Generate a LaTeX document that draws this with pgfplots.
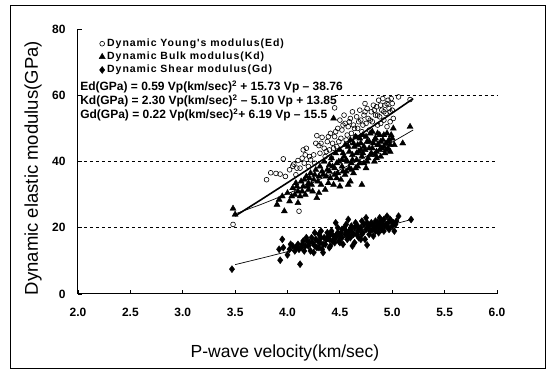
\documentclass[border=0pt]{standalone}
\usepackage{fontspec}
\setmainfont{Liberation Sans}
\newfontfamily\legfont[LetterSpace=9]{Liberation Sans}
\usepackage{pgfplots}
\pgfplotsset{compat=1.18}

\pgfplotstableread{
x y
3.48 21.0
3.80 34.5
3.84 36.6
3.89 36.4
3.93 36.2
3.96 40.8
3.98 35.5
4.02 37.5
4.05 38.6
4.06 39.2
4.08 36.0
4.10 40.3
4.11 25.0
4.12 38.0
4.14 41.0
4.15 43.5
4.17 42.0
4.18 44.0
4.20 38.5
4.22 40.5
4.25 42.0
4.27 45.5
4.28 47.8
4.30 44.8
4.31 42.5
4.33 47.3
4.35 44.0
4.36 41.5
4.38 46.0
4.40 43.5
4.41 48.5
4.43 45.5
4.45 47.5
4.45 56.2
4.47 44.5
4.48 50.0
4.50 52.5
4.51 47.0
4.52 49.5
4.54 54.0
4.55 51.5
4.56 46.5
4.58 50.5
4.60 53.0
4.61 48.5
4.62 55.0
4.63 51.0
4.65 47.5
4.66 53.5
4.67 50.0
4.69 55.5
4.70 52.5
4.71 49.0
4.73 54.0
4.74 57.5
4.75 51.5
4.76 56.0
4.77 53.0
4.78 49.5
4.80 55.0
4.81 52.0
4.82 57.0
4.84 54.0
4.85 56.5
4.86 51.0
4.87 58.5
4.88 53.5
4.90 55.5
4.91 59.0
4.92 52.5
4.93 57.0
4.94 54.5
4.96 58.5
4.97 56.0
4.98 52.0
4.99 59.0
5.00 55.5
5.01 53.0
5.06 59.5
5.17 58.7
4.95 50.5
4.58 45.5
4.42 41.0
4.26 39.5
4.32 45.5
4.37 43.0
4.39 47.5
4.44 44.0
4.46 49.0
4.49 46.0
4.53 51.0
4.57 48.0
4.59 52.0
4.64 50.0
4.68 52.0
4.72 51.0
4.74 55.0
4.79 52.5
4.83 55.5
4.86 54.0
4.89 57.0
4.92 55.0
4.95 57.5
4.98 55.0
5.00 57.5
4.89 51.5
4.21 41.5
4.16 39.5
4.09 38.0
}\EdData

\pgfplotstableread{
x y
3.48 25.8
3.50 24.0
3.90 27.0
3.92 28.5
3.95 29.5
3.97 25.0
4.00 30.5
4.02 28.0
4.05 32.0
4.07 30.0
4.08 33.5
4.10 31.0
4.12 29.5
4.13 34.0
4.15 32.5
4.17 30.0
4.18 35.5
4.20 33.5
4.22 36.5
4.24 31.0
4.25 34.5
4.27 37.5
4.28 29.0
4.30 35.5
4.31 38.5
4.32 33.0
4.34 36.0
4.35 40.0
4.36 31.5
4.38 37.5
4.40 39.0
4.41 35.0
4.42 41.0
4.44 33.0
4.44 53.0
4.45 38.0
4.46 42.5
4.48 36.5
4.49 40.0
4.50 43.5
4.51 34.5
4.52 38.5
4.54 41.5
4.55 45.0
4.56 37.0
4.57 40.0
4.58 33.0
4.59 43.0
4.60 46.5
4.61 39.5
4.62 42.0
4.63 36.5
4.64 44.5
4.65 47.5
4.66 40.5
4.67 38.5
4.68 43.0
4.70 45.5
4.71 33.0
4.71 41.5
4.72 48.0
4.74 43.5
4.75 38.0
4.76 46.0
4.77 41.0
4.78 44.0
4.79 48.5
4.80 42.5
4.82 45.5
4.83 40.0
4.84 47.0
4.85 43.0
4.87 45.0
4.88 48.0
4.89 41.5
4.90 44.0
4.91 46.5
4.93 42.5
4.94 45.5
4.95 48.5
4.96 44.0
4.97 46.5
4.98 43.0
5.00 47.0
5.01 50.0
5.02 45.0
5.10 45.5
5.17 50.5
4.10 27.5
4.30 30.5
4.50 32.5
4.60 34.0
4.40 37.0
4.20 31.5
4.55 36.0
4.65 38.0
4.85 41.0
4.73 39.5
4.21 35.0
4.23 33.0
4.26 36.0
4.29 34.0
4.33 37.0
4.37 35.5
4.39 33.5
4.43 38.5
4.47 39.5
4.47 35.0
4.53 42.5
4.53 37.0
4.56 40.5
4.58 44.5
4.59 38.0
4.62 40.5
4.63 45.5
4.66 42.5
4.67 45.0
4.69 39.5
4.69 47.0
4.72 42.5
4.73 44.5
4.75 47.5
4.76 40.0
4.78 46.0
4.79 42.0
4.81 44.0
4.81 49.0
4.83 46.5
4.84 42.0
4.86 45.0
4.86 48.5
4.88 43.5
4.89 46.0
4.92 44.5
4.92 48.0
4.94 43.5
4.96 46.0
4.98 45.0
4.99 48.0
4.14 31.0
4.16 34.5
4.19 32.5
4.09 32.5
4.04 29.5
4.45 36.0
4.52 40.5
4.61 37.5
4.70 43.5
}\KdData

\pgfplotstableread{
x y
3.47 7.5
3.93 10.2
3.95 16.5
3.92 13.5
3.96 14.0
4.00 11.8
4.02 13.5
4.05 14.5
4.07 13.0
4.10 15.0
4.12 9.0
4.13 14.0
4.15 16.0
4.16 13.0
4.18 17.0
4.20 14.5
4.22 13.0
4.24 15.5
4.25 12.5
4.27 16.5
4.28 14.0
4.30 18.0
4.31 15.5
4.32 19.0
4.33 13.5
4.35 17.0
4.36 15.0
4.38 18.5
4.40 16.5
4.41 14.5
4.42 19.0
4.44 17.5
4.45 15.5
4.47 18.0
4.48 20.0
4.49 16.0
4.50 17.5
4.52 19.5
4.53 15.0
4.55 18.0
4.56 21.0
4.57 16.5
4.59 19.0
4.60 17.0
4.61 20.5
4.63 18.0
4.64 15.5
4.65 21.5
4.67 19.0
4.68 17.0
4.70 20.0
4.71 22.0
4.72 18.5
4.74 16.5
4.75 23.0
4.76 14.8
4.77 20.5
4.78 18.0
4.80 21.5
4.81 19.5
4.82 17.5
4.84 22.0
4.85 20.0
4.87 18.5
4.88 23.0
4.89 21.0
4.90 19.5
4.92 22.5
4.93 20.5
4.95 23.5
4.96 21.5
4.97 19.5
4.99 22.0
5.00 20.5
5.02 19.0
5.03 21.0
5.06 23.5
5.18 22.5
4.46 21.5
4.58 22.5
4.26 18.5
4.62 14.5
4.34 12.5
4.03 15.0
4.08 14.0
4.11 13.5
4.14 15.0
4.17 14.5
4.19 16.0
4.21 15.5
4.23 17.0
4.26 14.5
4.29 16.0
4.32 17.0
4.34 15.0
4.37 16.5
4.39 17.5
4.41 18.0
4.43 16.0
4.46 17.0
4.48 18.5
4.51 18.5
4.52 17.0
4.54 20.0
4.56 19.0
4.58 18.0
4.60 19.5
4.62 18.5
4.64 20.0
4.66 18.0
4.67 20.5
4.69 19.5
4.71 18.0
4.73 21.0
4.75 19.5
4.76 21.5
4.78 20.5
4.79 19.0
4.81 21.0
4.83 20.5
4.84 19.0
4.86 21.5
4.87 20.0
4.89 22.0
4.91 21.0
4.92 19.0
4.94 21.0
4.96 20.0
4.98 22.5
5.01 21.5
5.04 22.0
4.70 16.5
4.50 15.5
4.40 14.0
4.30 14.0
}\GdData

\begin{document}
\begin{tikzpicture}
\useasboundingbox (-78pt,-78pt) rectangle (477pt,294pt);
\draw[line width=0.8pt] (-68pt,-74pt) rectangle (467pt,289pt);
\begin{axis}[
  at={(0pt,0pt)}, anchor=south west,
  scale only axis, width=419pt, height=265pt,
  xmin=2, xmax=6, ymin=0, ymax=80,
  axis lines=left,
  axis line style={-, line width=1pt},
  xtick={2,2.5,...,6}, ytick={0,20,40,60,80},
  tick align=inside, major tick length=4pt,
  tick style={line width=0.8pt, black},
  xticklabel style={/pgf/number format/fixed, /pgf/number format/fixed zerofill, /pgf/number format/precision=1, font=\bfseries\fontsize{12}{12}\selectfont, yshift=-11pt},
  yticklabel style={font=\bfseries\fontsize{12}{12}\selectfont, xshift=-9pt},
  /pgf/number format/assume math mode=true,
  xlabel={P-wave velocity(km/sec)},
  ylabel={Dynamic elastic modulus(GPa)},
  xlabel style={at={(axis description cs:0.494,0)}, anchor=center, yshift=-59pt, font=\fontsize{17.5}{17.5}\selectfont},
  ylabel style={at={(axis description cs:0,0.475)}, anchor=center, yshift=45pt, font=\fontsize{18.5}{18.5}\selectfont},
  clip=false,
  legend style={at={(axis description cs:0.05,0.970)}, anchor=north west, draw=none, fill=none,
    font=\legfont\bfseries\fontsize{10.5}{10.5}\selectfont, row sep=0pt, inner sep=0pt,
    cells={anchor=west}},
  legend image code/.code={\draw[mark repeat=2,mark phase=2] plot coordinates {(0pt,0pt)(4pt,0pt)(12pt,0pt)};},
]
\draw[dashed, dash pattern=on 3pt off 3pt, line width=0.8pt] (axis cs:2,20) -- (axis cs:6,20);
\draw[dashed, dash pattern=on 3pt off 3pt, line width=0.8pt] (axis cs:2,40) -- (axis cs:6,40);
\draw[dashed, dash pattern=on 3pt off 3pt, line width=0.8pt] (axis cs:4.45,60) -- (axis cs:6,60);

\addplot[only marks, mark=o, mark size=2.4pt, mark options={fill=white, line width=0.6pt}, black] table {\EdData};
\addlegendentry{Dynamic Young's modulus(Ed)}
\addplot[only marks, mark=triangle*, mark size=3.5pt, black] table {\KdData};
\addlegendentry{Dynamic Bulk modulus(Kd)}
\addplot[only marks, mark=diamond*, mark size=3.5pt, black] table {\GdData};
\addlegendentry{Dynamic Shear modulus(Gd)}

\addplot[no marks, black, line width=1.6pt] coordinates {(3.5,23.53)(3.75,28.52)(4.0,33.60)(4.25,38.75)(4.5,43.97)(4.75,49.27)(5.0,54.64)(5.2,58.99)};
\addplot[no marks, black, line width=0.7pt] coordinates {(3.5,24.18)(3.75,27.07)(4.0,30.25)(4.25,33.72)(4.5,37.48)(4.75,41.52)(5.0,45.85)(5.2,49.52)};
\addplot[no marks, black, line width=0.7pt] coordinates {(3.5,8.86)(3.75,10.80)(4.0,12.78)(4.25,14.78)(4.5,16.81)(4.75,18.86)(5.0,20.95)(5.2,22.64)};

\node[anchor=north west, align=left, inner sep=0pt, font=\bfseries\fontsize{12}{13.8}\selectfont] at (axis cs:2.02,64.0)
 {Ed(GPa) = 0.59 Vp(km/sec)\smash{$^{\mathbf{2}}$} + 15.73 Vp -- 38.76\\
  Kd(GPa) = 2.30 Vp(km/sec)\smash{$^{\mathbf{2}}$} -- 5.10 Vp + 13.85\\
  Gd(GPa) = 0.22 Vp(km/sec)\smash{$^{\mathbf{2}}$}+ 6.19 Vp -- 15.5};
\end{axis}
\end{tikzpicture}
\end{document}
